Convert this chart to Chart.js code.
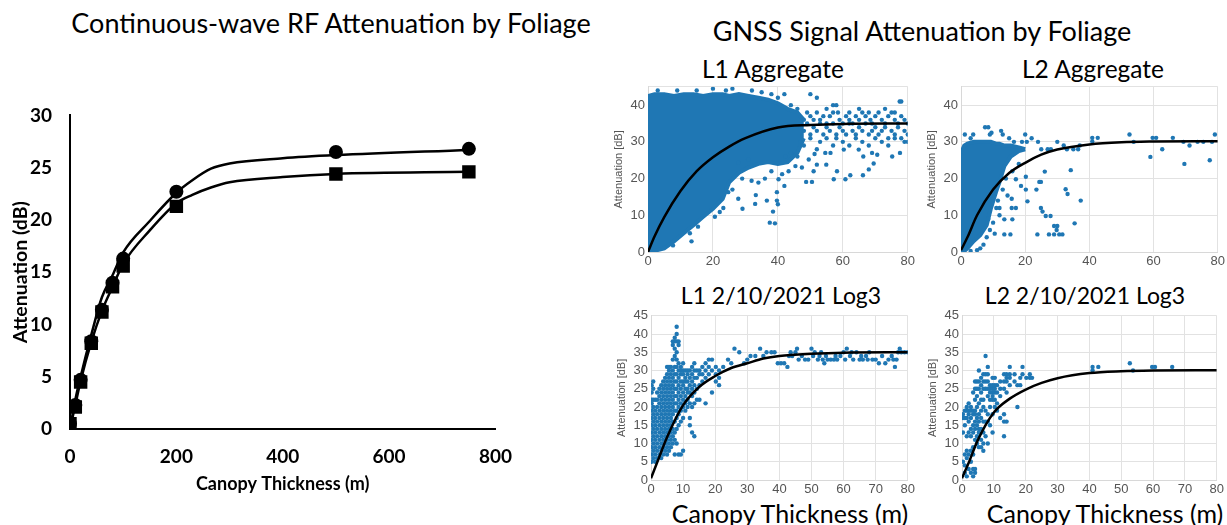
<!DOCTYPE html>
<html>
<head>
<meta charset="utf-8">
<script src="https://cdn.jsdelivr.net/npm/chart.js@4.4.1/dist/chart.umd.min.js"></script>
<style>
  body { margin: 0; background: #fff; width: 1227px; height: 525px; position: relative; overflow: hidden; font-family: Lato, "Noto Sans", sans-serif; }
  canvas { position: absolute; }
  .t { position: absolute; transform: translate(-50%, -50%); white-space: nowrap; color: #000; }
</style>
</head>
<body>
<div class="t" style="left:331px;top:22px;font-size:27px">Continuous-wave RF Attenuation by Foliage</div>
<div class="t" style="left:922px;top:30px;font-size:27px">GNSS Signal Attenuation by Foliage</div>
<div class="t" style="left:773px;top:68px;font-size:24.5px">L1 Aggregate</div>
<div class="t" style="left:1093px;top:68px;font-size:24.5px">L2 Aggregate</div>
<div class="t" style="left:781px;top:295px;font-size:23px">L1 2/10/2021 Log3</div>
<div class="t" style="left:1085px;top:295px;font-size:23px">L2 2/10/2021 Log3</div>
<div class="t" style="left:790px;top:513px;font-size:25px">Canopy Thickness (m)</div>
<div class="t" style="left:1105px;top:513px;font-size:25px">Canopy Thickness (m)</div>

<canvas id="cw" width="528" height="414" style="left:0;top:86px"></canvas>
<canvas id="l1agg" width="309" height="196" style="left:608px;top:76px"></canvas>
<canvas id="l2agg" width="306" height="196" style="left:921px;top:76px"></canvas>
<canvas id="l1log" width="306" height="195" style="left:611px;top:305px"></canvas>
<canvas id="l2log" width="304" height="195" style="left:922px;top:305px"></canvas>

<script>
// ── CONTINUOUS-WAVE DATA ─────────────────────────────────
const cwThickness  = [0, 10, 20, 40, 60, 80, 100, 200, 500, 750];
const cwCircle     = [0.5, 2.3, 4.7, 8.4, 11.4, 14.0, 16.3, 22.7, 26.5, 26.8];
const cwSquare     = [0.5, 2.1, 4.5, 8.2, 11.2, 13.6, 15.6, 21.3, 24.4, 24.6];
const cwCurveX     = [0, 10, 20, 40, 60, 80, 100, 150, 200, 230, 265, 300, 400, 500, 750];
const cwUpperCurve = [0, 2.8, 5.0, 9.0, 12.6, 14.7, 16.9, 19.9, 22.6, 23.8, 24.9, 25.4, 25.9, 26.2, 26.7];
const cwLowerCurve = [0, 2.3, 4.6, 8.3, 11.3, 13.6, 15.8, 19.0, 21.6, 22.4, 23.1, 23.6, 24.1, 24.4, 24.6];

// ── GNSS FIT CURVES ──────────────────────────────────────
const l1AggFitX = [0, 2, 5, 10, 15, 20, 25, 30, 40, 50, 60, 80];
const l1AggFitY = [0, 4.2, 9.5, 16.6, 22, 25.8, 28.7, 31, 33.9, 34.6, 34.9, 35];
const l2AggFitX = [0, 2, 5, 10, 15, 20, 25, 30, 40, 50, 60, 80];
const l2AggFitY = [0.5, 4, 10, 17, 21.5, 24.3, 26.5, 27.9, 29.3, 29.9, 30.1, 30.2];
const l1LogFitX = [0, 2, 5, 10, 15, 20, 25, 30, 35, 40, 50, 60, 80];
const l1LogFitY = [0.5, 5, 11.7, 20.5, 25.5, 28.5, 30.7, 32, 33.3, 34, 34.6, 34.9, 35];
const l2LogFitX = [0, 2, 5, 10, 15, 20, 25, 30, 40, 50, 60, 80];
const l2LogFitY = [0.5, 4.5, 11, 18.5, 22.3, 24.8, 26.6, 27.9, 29.3, 29.8, 30, 30.1];

// ── GNSS DENSE REGIONS (upper / lower edges) ─────────────
const l1BlobX   = [0, 2, 5, 8, 11, 14, 17, 20, 23, 25, 28, 31, 34, 37, 40, 43, 46, 48];
const l1BlobTop = [42.5, 43, 43, 42.5, 43, 43, 42.5, 43, 43, 42.5, 43, 42.5, 42, 41.5, 40.5, 39, 38, 36];
const l1BlobBot = [0, 0.3, 1, 2.9, 5.1, 7.3, 9.6, 11.8, 14.5, 19, 21.6, 23, 24, 24.5, 24, 24.5, 27, 31];
const l2BlobX   = [0, 1, 2, 4, 6, 8, 9.3, 10.9, 12, 13.5, 15.5, 18, 20];
const l2BlobTop = [27, 29, 29.5, 30, 30, 30, 30, 29.5, 29.5, 29, 29, 28.5, 28];
const l2BlobBot = [0, 0.2, 1, 3, 4.6, 7.3, 11.8, 16.3, 19, 23.4, 26, 27.5, 28];

// ── GNSS SCATTER POINTS ──────────────────────────────────
const l1AggPts = [
  [48,36],[49,38],[50,37],[51,36],[52,38],[53,36],[54,37],[55,35],[56,37],[57,40],[58,40],[58.5,38],[59,36],[60,35],
  [61,37],[62,36],[63,35],[64,37],[65,36],[66,38],[67,37],[68,38],[68.5,36],[69,35],[70,37],[71,38],[72,36],[73,35],
  [74,37],[75,38],[76,36],[77,35],[77.5,41],[78,37],[79,36],[80,35],
  [47,34],[48,33],[49,35],[50,32],[51,34],[52,33],[53,35],[54,32],[55,34],[56,33],[57,35],[58,32],[59,34],[60,33],
  [61,32],[62,35],[63,33],[64,32],[65,34],[66,33],[67,35],[68,32],[69,33],[70,34],[71,32],[72,33],[73,34],[74,31],
  [75,33],[76,32],[77,34],[78,31],[79,33],[80,32],
  [47,30],[48,29],[50,31],[52,28],[53,30],[55,31],[57,29],[58,31],[60,30],[62,29],[64,31],[66,30],[68,29],[70,31],
  [72,30],[74,29],[76,31],[79,30],[80,30],
  [54.6,27],[56.2,27],[60.3,27.9],[64.9,27.9],[66.3,26],[69,27],[70.6,26.5],[75.2,26],[77.6,27],[58.2,22],[57.2,19.8],
  [60.8,19.8],[62.3,20.9],[66.2,20.9],[68,22.5],[69.5,24.1],[50.5,19.1],[48.7,19.1],[42,18],[40.2,19.8],[39.7,14],
  [51.3,26.7],[52,23.8],[54.9,23.8],[51,22],[49.5,25.2],[47.4,23],[45.4,23.4],[43.3,22],[42.3,26],[41.3,21.2],
  [39.1,7.8],[23.2,12],[27.8,14.5],[29.1,11.8],[33.2,15.5],[20.6,9.6],[15.4,6.9],[12.9,5.1],[13.4,2.9],[7.7,1.8],
  [33,13.1],[36.6,14],[39.7,16.3],[27.8,24.3],[30.9,25.2],[34,18.9],[31.9,19.4],[24.7,16.3],[22.1,10.9],[37.5,8],
  [38.5,11],[40,13],[26,17],[29,20],[36,20],[38,22],[44,27],[46,26],
  [32,44],[35,43.5],[38,43],[40,42],[42,43],[44,40],[46,39],[50,43],[52,42],[55,39],[57,38],[62,38],[65,39],[73,39],
  [76,38],[78,41],[26,44.5],[3,44],[9,44],[15,44],[20,44.5],[24,44]
];
const l2AggPts = [
  [1.2,32],[3,31],[3.8,32],[7.5,34],[8.5,34],[9,32],[9.5,32.5],[12.5,33],[13,32],[15,31],[16.5,30],[19,30],[20,32],
  [20.5,30],[22,31],[24,30],[25,28],[27,28],[28,28],[30,30],[32,29],[33,28],[35,28],[36.5,28],[37,29],
  [40.9,30.1],[40.9,31.1],[42.6,31.1],[52.5,32],[53.8,30],[59,25.9],[59.7,31.1],[60.8,31.1],[62.7,28],[66,31.1],
  [69.3,30],[69.6,24],[71.2,29],[73.7,30],[75.5,30],[77.5,25],[78.2,30],[79.1,32],
  [26.1,21.9],[24.4,19.1],[24.9,19.1],[20.2,17],[23.5,17],[20.7,13.8],[24.9,12],[25.4,11],[26.4,9.8],[27.9,9.8],
  [23.8,4.8],[27.4,4.8],[29,7.1],[30,7.1],[29.8,6],[29,4.8],[30.6,4.8],[31.6,4.8],[32.6,17.1],[33.2,15.8],[35.4,7.8],
  [34.2,22.3],[37.3,14],[16,8.9],[13.5,8.9],[13.5,4.8],[15.4,4.8],[17.1,12],[15.8,12],[17.1,19.8],[18.7,18],
  [14.5,15.4],[15.8,14.5],[20.2,20.5],[11,12],[12,10],[10,8],[9,6],[8,4],[7,2],[11.5,14],[13,17],[14,20],[16,22],
  [18,24],[12,12],[6,1],[5,0.5],[3,0.3],[10.5,5],[8.5,9]
];
// columns: [x, [y values]]
const l1LogCols = [
  [0.2, [5,7,9,11,13,15,17,19,21,22,24,26]], [0.7, [6,8,10,12,14,16,18,20,22,25,27]],
  [1.3, [5,7,9,11,13,15,17,19,22]], [1.9, [6,8,10,12,14,16,18,20,22,24]],
  [2.6, [7,9,11,13,15,17,19,21,23,25]], [3.2, [6,8,10,12,14,16,18,20,22,24,26]],
  [3.8, [7,9,11,13,15,17,19,21,23,25,27]], [4.4, [8,10,12,14,16,18,20,22,24,26,28]],
  [5.0, [7,9,11,13,15,17,19,21,23,25,27,29,31]], [5.6, [8,10,12,14,16,18,20,22,24,26,28,30,31]],
  [6.2, [9,11,13,15,17,19,21,23,25,27,29,31]], [6.8, [10,12,14,16,18,20,22,24,26,28,30,33,37,38]],
  [7.4, [7,11,13,16,19,21,23,25,27,29,31,34,36,38,39]], [8.0, [10,14,17,19,21,23,25,27,29,31,33,35,38,40,42]],
  [8.6, [7,15,18,20,22,24,26,28,30,32,37,38]], [9.3, [7,16,19,21,23,25,27,29,30,31]],
  [10.0, [8,17,20,22,24,26,27,29,30,32]], [10.7, [19,21,23,25,27,28,30]],
  [11.4, [20,22,24,25,27,29,30]], [12.1, [15,17,21,24,26,28,30]],
  [12.8, [13,20,23,25,27,29,31]], [13.5, [12,21,24,26,28,30,32]],
  [14.3, [22,25,28,30]], [15.1, [22,26,29,30]], [16.0, [27,29,31]], [17.0, [21,28,30,32]],
  [18.0, [29,31,33]], [19.0, [24,30,33]], [20.2, [27,29,31]], [21.2, [26,28,30]]
];
const l1LogPts = [
  [22.5,31],[24,33],[25,32],[26,36],[27.5,35],[29,32],[30,33],[31,34],[32.5,34],[34,36],[35,34],[36,35],[37.5,35],
  [38.5,35],[39.5,32],[40.5,32],[41.5,32],[42.5,31],[43,34],[43.5,35],[44,34],[45,35],[45.5,36],[46,33],[47,34],
  [48,33],[49,33],[50,36],[50.5,34],[51,35],[52,33],[52.5,34],[53,35],[53.5,33],[54,32],[54.5,34],[55,33],[56,33],
  [57,33],[57.5,34],[58,33],[59,34],[60,35],[60.5,33],[61,36],[62,34],[62.5,35],[63,33],[64,35],[65,33],[65.5,34],
  [66,33],[67,34],[67.5,33],[68,35],[69,33],[70,33],[71,32],[72,34],[73,32],[74,33],[75,34],[75.5,33],[76,31],
  [76.5,33],[77,35],[77.5,36],[78,35],[79,35],[80,35]
];
const l2LogCols = [
  [0.3, [5,13,17,18]], [0.9, [2,4,7,15,17,19]], [1.5, [1,6,8,12,17,19,20]], [2.1, [3,7,13,16,18,19,21]],
  [2.8, [2,5,8,12,14,17,19,20]], [3.5, [1,3,7,9,13,15,18,19,24]], [4.1, [2,3,11,14,16,18,19,22,25,27]],
  [4.7, [10,12,15,17,20,23,25,27]], [5.3, [9,13,14,16,18,21,25,27,30]], [6.0, [9,11,14,17,19,22,24,26,28]],
  [6.7, [8,10,13,16,20,22,25,27,29]], [7.4, [12,16,19,25,27,29,34]], [8.1, [10,16,18,23,25,27,29,31]],
  [8.8, [15,20,22,24,25,26]], [9.6, [13,18,22,23,24,25,26,28]], [10.3, [20,22,24,25,26,28]],
  [11.0, [19,21,24,26]], [12.0, [17,23,25,27]], [13.2, [12,16,18,25,27,29]], [14.0, [16,24,27,28,29]],
  [15.0, [26,28,29,31]], [16.5, [27,29]], [17.4, [20,26]], [18.3, [26,28]], [19.0, [29,31]], [20.2, [28]],
  [21.3, [28,29]], [22.0, [28]]
];
const l2LogPts = [[41,30],[41,31],[42.8,31],[52.7,32],[53.7,30],[59.7,31],[60.6,31],[66,31]];

// ── HELPERS ──────────────────────────────────────────────
const BLUE = '#1f77b4';
const zip   = (xs, ys) => xs.map((x, i) => ({ x, y: ys[i] }));
const pairs = a => a.map(([x, y]) => ({ x, y }));
const cols  = c => c.flatMap(([x, ys]) => ys.map(y => ({ x, y })));

function fitLine(xs, ys) {
  return { data: zip(xs, ys), showLine: true, borderColor: '#000', borderWidth: 2.5,
           pointRadius: 0, cubicInterpolationMode: 'monotone', order: 0 };
}
function dots(data) {
  return { data, pointRadius: 2.2, pointBackgroundColor: BLUE, pointBorderWidth: 0, order: 1 };
}
function blob(xs, top, bot) {
  return [
    { data: zip(xs, bot), showLine: true, borderColor: BLUE, borderWidth: 4, pointRadius: 0, fill: false, order: 2 },
    { data: zip(xs, top), showLine: true, borderColor: BLUE, borderWidth: 4, pointRadius: 0, fill: '-1',
      backgroundColor: BLUE, order: 2 }
  ];
}

const tickFont = { family: '"Liberation Sans", Arial, sans-serif', size: 13 };

function subplot(id, yStep, xStep, datasets) {
  return new Chart(document.getElementById(id), {
    type: 'scatter',
    data: { datasets },
    options: {
      responsive: false, animation: false,
      layout: { padding: { top: 8, right: 8, left: 0, bottom: 0 } },
      plugins: { legend: { display: false }, tooltip: { enabled: false } },
      scales: {
        x: {
          type: 'linear', min: 0, max: 80,
          ticks: { stepSize: xStep, autoSkip: false, color: '#555', font: tickFont, padding: 2, maxRotation: 0 },
          grid: { color: '#e2e2e2', drawTicks: false },
          border: { color: '#d8d8d8' },
          afterFit: s => { s.height = 20; }
        },
        y: {
          type: 'linear', min: 0, max: 45,
          ticks: { stepSize: yStep, autoSkip: false, color: '#555', font: tickFont, padding: 3,
                   callback: v => (v % yStep === 0 ? v : '') },
          grid: { color: '#e2e2e2', drawTicks: false },
          border: { color: '#d8d8d8' },
          title: { display: true, text: 'Attenuation [dB]', color: '#555',
                   font: { family: '"Liberation Sans", Arial, sans-serif', size: 11 }, padding: { top: 4, bottom: 0 } },
          afterFit: s => { s.width = 40; }
        }
      }
    }
  });
}

// ── LEFT CHART ───────────────────────────────────────────
const boldFont = size => ({ family: 'Lato, "Noto Sans", sans-serif', weight: 'bold', size });

new Chart(document.getElementById('cw'), {
  type: 'scatter',
  data: {
    datasets: [
      { data: zip(cwCurveX, cwUpperCurve), showLine: true, borderColor: '#000', borderWidth: 2.5, pointRadius: 0,
        cubicInterpolationMode: 'monotone', order: 1 },
      { data: zip(cwCurveX, cwLowerCurve), showLine: true, borderColor: '#000', borderWidth: 2.5, pointRadius: 0,
        cubicInterpolationMode: 'monotone', order: 1 },
      { data: zip(cwThickness, cwCircle), pointStyle: 'circle', pointRadius: 7,
        pointBackgroundColor: '#000', pointBorderWidth: 0, order: 0 },
      { data: zip(cwThickness, cwSquare), pointStyle: 'rect', pointRadius: 9.5,
        pointBackgroundColor: '#000', pointBorderWidth: 0, order: 0 }
    ]
  },
  options: {
    responsive: false, animation: false,
    layout: { padding: { top: 14, right: 0, left: 0, bottom: 0 } },
    plugins: { legend: { display: false }, tooltip: { enabled: false } },
    scales: {
      x: {
        type: 'linear', min: 0, max: 800,
        ticks: { stepSize: 200, color: '#000', font: boldFont(19), padding: 16, maxRotation: 0 },
        grid: { display: false, drawTicks: false },
        border: { color: '#000', width: 2 },
        title: { display: true, text: 'Canopy Thickness (m)', color: '#000', font: boldFont(18),
                 padding: { top: 0, bottom: 5 } },
        afterFit: s => { s.height = 71; }
      },
      y: {
        type: 'linear', min: 0, max: 30,
        ticks: { stepSize: 5, color: '#000', font: boldFont(19), padding: 18 },
        grid: { display: false, drawTicks: false },
        border: { color: '#000', width: 2 },
        title: { display: true, text: 'Attenuation (dB)', color: '#000', font: boldFont(19.5),
                 padding: { top: 9, bottom: 0 } },
        afterFit: s => { s.width = 70; }
      }
    }
  }
});

// ── GNSS SUBPLOTS ────────────────────────────────────────
subplot('l1agg', 10, 20, [fitLine(l1AggFitX, l1AggFitY), dots(pairs(l1AggPts)), ...blob(l1BlobX, l1BlobTop, l1BlobBot)]);
subplot('l2agg', 10, 20, [fitLine(l2AggFitX, l2AggFitY), dots(pairs(l2AggPts)), ...blob(l2BlobX, l2BlobTop, l2BlobBot)]);
subplot('l1log', 5, 10, [fitLine(l1LogFitX, l1LogFitY), dots(cols(l1LogCols).concat(pairs(l1LogPts)))]);
subplot('l2log', 5, 10, [fitLine(l2LogFitX, l2LogFitY), dots(cols(l2LogCols).concat(pairs(l2LogPts)))]);
</script>
</body>
</html>
